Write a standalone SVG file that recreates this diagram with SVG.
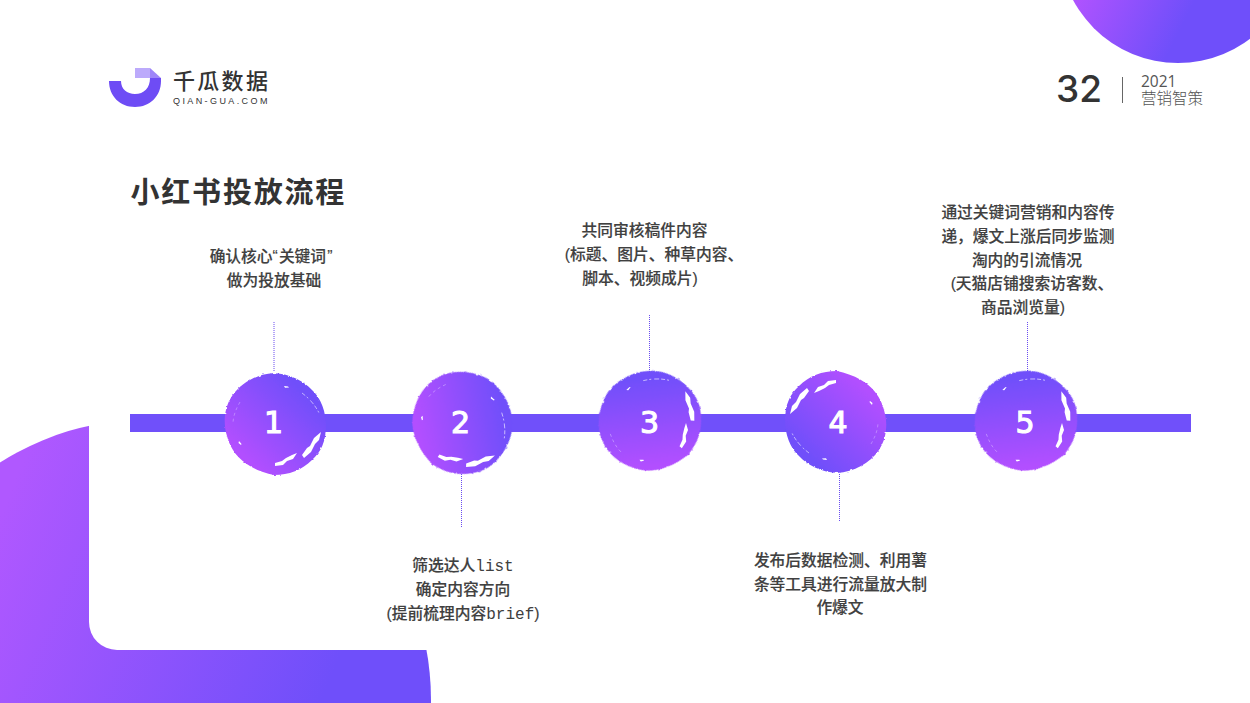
<svg xmlns="http://www.w3.org/2000/svg" xmlns:xlink="http://www.w3.org/1999/xlink" width="1250" height="703" viewBox="0 0 1250 703">
<style>
.t{font-family:"Liberation Sans","Noto Sans CJK SC",sans-serif;font-size:15.750px;font-weight:500;fill:#404040;text-anchor:middle;stroke:#404040;stroke-width:.15px}
.m{font-family:"Liberation Mono",monospace;font-size:16px;font-weight:400;stroke:none}
.n{font-family:"DejaVu Sans",sans-serif;font-size:30px;font-weight:400;fill:#fff;stroke:#fff;stroke-width:1.100px;text-anchor:middle}
.d{stroke:#6a4cf0;stroke-width:1;stroke-dasharray:1 1;fill:none}
</style>
<defs>
<linearGradient id="bg1" gradientUnits="userSpaceOnUse" x1="-10" y1="540" x2="330" y2="680"><stop offset="0" stop-color="#b058ff"/><stop offset="1" stop-color="#6f4ffa"/></linearGradient>
<linearGradient id="bg2" gradientUnits="userSpaceOnUse" x1="1070" y1="0" x2="1170" y2="50"><stop offset="0" stop-color="#b253ff"/><stop offset="1" stop-color="#6f4ffa"/></linearGradient>
<linearGradient id="bg3" gradientUnits="userSpaceOnUse" x1="-30" y1="32" x2="32" y2="-32"><stop offset="0" stop-color="#b24fff"/><stop offset="1" stop-color="#6f4ffa"/></linearGradient>
<filter id="rough" x="-10%" y="-10%" width="120%" height="120%"><feTurbulence type="fractalNoise" baseFrequency="0.35" numOctaves="2" seed="4"/><feDisplacementMap in="SourceGraphic" scale="2.5" xChannelSelector="R" yChannelSelector="G"/></filter>
<g id="blob">
<path filter="url(#rough)" fill="url(#bg3)" d="M0,-51 C16,-50 30,-43 38,-34 C47,-26 52,-12 52,2 C52,17 47,28 38,36 C28,46 15,51 0,51 C-8,49 -16,47 -24,42 C-35,36 -44,25 -47,12 C-51,-1 -50,-16 -42,-28 C-33,-41 -17,-50 0,-51Z"/>
<g fill="#fff">
<path d="M47,8 L45,16 L41,20 L37,28 L30,34 L28,31 L33,24 L36,22 L40,14 Z"/>
<path d="M23,29 L19,35 L13,37 L9,41 L1,42 L1,39 L8,37 L12,34 L18,31 Z"/>
<path d="M10,-38 l4,.5 l1,1 l-4,.2Z"/>
<path d="M-35,17 l2.500,3 l-.5,1 l-2.500,-2Z"/>
</g>
<path d="M28,-31 C36,-25 42,-18 46,-9" fill="none" stroke="#fff" stroke-width=".7" stroke-dasharray="4 2 2 3 5 2" opacity=".8"/>
<path d="M-34,-22 C-38,-15 -41,-8 -41,0" fill="none" stroke="#fff" stroke-width=".6" stroke-dasharray="3 3" opacity=".5"/>
</g>
</defs>
<rect width="1250" height="703" fill="#fff"/>
<circle id="bg-left" cx="150" cy="700" r="281" fill="url(#bg1)"/>
<path id="card" d="M89,400 H1250 V650 H117 A28,28 0 0 1 89,622 Z" fill="#fff"/>
<circle id="bg-right" cx="1178" cy="-56" r="119" fill="url(#bg2)"/>

<g id="logo">
<path d="M109,81 H121 C121,89 127,94 135,94 C144,94 150,88 150,78 L161,78 V81 C161,96 150,107 135,107 C120,107 109,96 109,81Z" fill="#6e4cf5"/>
<path d="M135,68 H150 V78 H135Z" fill="#bcaafb"/>
<path d="M150,68 L161,78 H150Z" fill="#9e85f8"/>
<text x="173" y="88.500" font-family="'Noto Sans CJK SC',sans-serif" font-size="22" font-weight="500" letter-spacing="2.300" fill="#333">千瓜数据</text>
<text x="173" y="104" font-family="'Liberation Sans',sans-serif" font-size="9" letter-spacing="2.400" fill="#333">QIAN-GUA.COM</text>
</g>
<g id="page">
<text x="1056" y="102" font-family="'Inter',sans-serif" font-size="37" font-weight="500" fill="#333">32</text>
<rect x="1122" y="77" width="1" height="26" fill="#666"/>
<text x="1141" y="86.500" font-family="'Open Sans',sans-serif" font-size="15.500" fill="#555">2021</text>
<text x="1141" y="103.500" font-family="'Noto Sans CJK SC',sans-serif" font-size="15.500" font-weight="300" fill="#555">营销智策</text>
</g>
<text id="title" x="130.500" y="203" font-family="'Noto Sans CJK SC',sans-serif" font-size="29" font-weight="700" letter-spacing="1.800" fill="#333">小红书投放流程</text>
<g id="connectors">
<rect id="bar" x="130" y="414" width="1061" height="18" fill="#7050fa"/>
<path class="d" d="M274,322V372"/>
<path class="d" d="M461.500,474V527"/>
<path class="d" d="M649.500,315V372"/>
<path class="d" d="M839.500,474V522"/>
<path class="d" d="M1027.500,322V372"/>
</g>
<g id="node1"><use xlink:href="#blob" href="#blob" transform="translate(274,424)"/><text class="n" x="273.500" y="433">1</text>
<text class="t" x="271" y="262">确认核心“<tspan dx="1">关键词</tspan><tspan dx="1">”</tspan></text><text class="t" x="274" y="286">做为投放基础</text></g>
<g id="node2"><use xlink:href="#blob" href="#blob" transform="translate(461,422) rotate(35)"/><text class="n" x="460.500" y="433">2</text>
<text class="t" x="463" y="571">筛选达人<tspan class="m">list</tspan></text><text class="t" x="463" y="595">确定内容方向</text><text class="t" x="463" y="619">(提前梳理内容<tspan class="m">brief</tspan>)</text></g>
<g id="node3"><use xlink:href="#blob" href="#blob" transform="translate(649,422) rotate(-50)"/><text class="n" x="649.500" y="433">3</text>
<text class="t" x="644.500" y="236">共同审核稿件内容</text><text class="t" x="654" y="260">(标题、图片、种草内容、</text><text class="t" x="640" y="284">脚本、视频成片)</text></g>
<g id="node4"><use xlink:href="#blob" href="#blob" transform="translate(837,422) rotate(180)"/><text class="n" x="838" y="433">4</text>
<text class="t" x="840.500" y="566">发布后数据检测、利用薯</text><text class="t" x="840.500" y="590">条等工具进行流量放大制</text><text class="t" x="840" y="613">作爆文</text></g>
<g id="node5"><use xlink:href="#blob" href="#blob" transform="translate(1025,422) rotate(-50)"/><text class="n" x="1025" y="433">5</text>
<text class="t" x="1028" y="218">通过关键词营销和内容传</text><text class="t" x="1028" y="242">递，爆文上涨后同步监测</text><text class="t" x="1027" y="266">淘内的引流情况</text><text class="t" x="1032" y="289">(天猫店铺搜索访客数、</text><text class="t" x="1023" y="313">商品浏览量)</text></g>
</svg>
